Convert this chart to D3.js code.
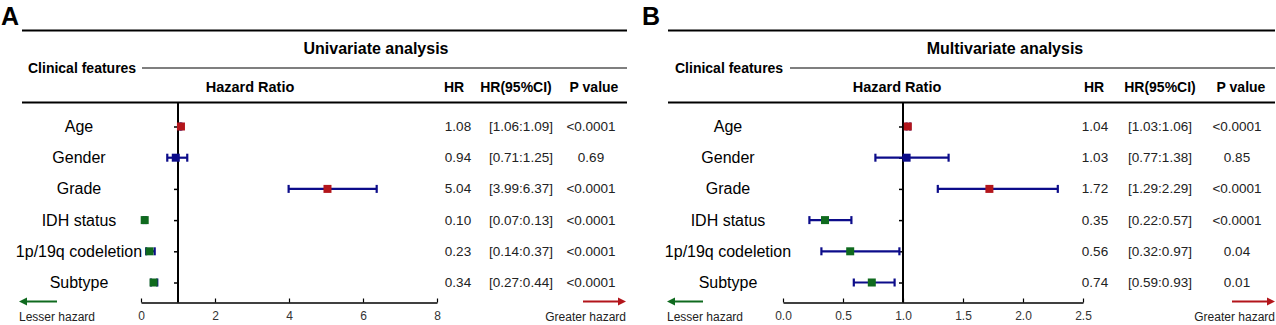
<!DOCTYPE html>
<html><head><meta charset="utf-8">
<script src="https://cdn.jsdelivr.net/npm/d3@7"></script>
<style>body{margin:0;background:#fff}svg{display:block;font-family:"Liberation Sans",Arial,sans-serif}</style>
</head><body>
<svg id="c" width="1276" height="325"></svg>
<script>
const features = ["Age","Gender","Grade","IDH status","1p/19q codeletion","Subtype"];
const groups = ["risk","ns","risk","protective","protective","protective"];

const uniHR   = [1.08, 0.94, 5.04, 0.10, 0.23, 0.34];
const uniLow  = [1.06, 0.71, 3.99, 0.07, 0.14, 0.27];
const uniHigh = [1.09, 1.25, 6.37, 0.13, 0.37, 0.44];
const uniP    = ["<0.0001","0.69","<0.0001","<0.0001","<0.0001","<0.0001"];
const uniTicks = [0, 2, 4, 6, 8];

const mulHR   = [1.04, 1.03, 1.72, 0.35, 0.56, 0.74];
const mulLow  = [1.03, 0.77, 1.29, 0.22, 0.32, 0.59];
const mulHigh = [1.06, 1.38, 2.29, 0.57, 0.97, 0.93];
const mulP    = ["<0.0001","0.85","<0.0001","<0.0001","0.04","0.01"];
const mulTicks = [0, 0.5, 1.0, 1.5, 2.0, 2.5];

const colors = {risk:"#b3151b", ns:"#0c0c8a", protective:"#0f6a1e"};
const ciColor = "#0c0c8a";

const svg = d3.select("#c");

function panel(o){
  const g = svg.append("g");
  g.append("text").attr("x",o.letterX).attr("y",25).attr("font-size",25).attr("font-weight","bold").text(o.letter);
  g.append("line").attr("x1",o.left).attr("x2",o.right).attr("y1",30.5).attr("y2",30.5).attr("stroke","#000").attr("stroke-width",2.2);
  g.append("text").attr("x",o.titleX).attr("y",54).attr("text-anchor","middle").attr("font-size",16).attr("font-weight","bold").text(o.title);
  g.append("text").attr("x",o.cfX).attr("y",73).attr("font-size",14).attr("font-weight","bold").text("Clinical features");
  g.append("line").attr("x1",o.cfLine).attr("x2",o.right).attr("y1",68).attr("y2",68).attr("stroke","#000").attr("stroke-width",1.2);
  g.append("text").attr("x",o.hrTitleX).attr("y",91.5).attr("text-anchor","middle").attr("font-size",14.5).attr("font-weight","bold").text("Hazard Ratio");
  const heads = [["HR",o.hHR],["HR(95%CI)",o.hCI],["P value",o.hP]];
  heads.forEach(h=>g.append("text").attr("x",h[1]).attr("y",91.5).attr("text-anchor","middle").attr("font-size",14).attr("font-weight","bold").text(h[0]));
  g.append("line").attr("x1",o.left).attr("x2",o.right).attr("y1",102.5).attr("y2",102.5).attr("stroke","#000").attr("stroke-width",1.8);

  const x = d3.scaleLinear().domain([o.ticks[0], o.ticks[o.ticks.length-1]]).range(o.xr);
  const y = d3.scalePoint().domain(features).range([126.5, 282.5]);
  const axisY = 302.5;

  const ax = g.append("g").attr("transform",`translate(0,${axisY})`)
    .call(d3.axisBottom(x).tickValues(o.ticks).tickSizeInner(-4).tickSizeOuter(0).tickPadding(9).tickFormat(o.fmt));
  ax.select(".domain").attr("stroke","#000").attr("stroke-width",1.5);
  ax.selectAll(".tick line").attr("stroke","#000").attr("stroke-width",1.2);
  ax.selectAll(".tick text").attr("font-size",12).attr("fill","#333").attr("font-family","Liberation Sans, Arial, sans-serif");

  g.append("line").attr("x1",x(1)).attr("x2",x(1)).attr("y1",103).attr("y2",axisY).attr("stroke","#000").attr("stroke-width",2);
  const ay = g.append("g").attr("transform",`translate(${x(1)},0)`)
    .call(d3.axisLeft(y).tickSizeInner(4).tickSizeOuter(0).tickFormat(""));
  ay.select(".domain").remove();
  ay.selectAll(".tick line").attr("stroke","#000").attr("stroke-width",1.5);

  g.selectAll(".lab").data(features).join("text")
    .attr("x",o.labX).attr("y",d=>y(d)+5.5).attr("text-anchor","middle").attr("font-size",16).text(d=>d);

  const rows = features.map((f,i)=>({f, hr:o.hr[i], lo:o.lo[i], hi:o.hi[i], p:o.p[i], grp:groups[i]}));
  const ci = g.selectAll(".ci").data(rows).join("g");
  ci.append("line").attr("x1",d=>x(d.lo)).attr("x2",d=>x(d.hi)).attr("y1",d=>y(d.f)).attr("y2",d=>y(d.f)).attr("stroke",ciColor).attr("stroke-width",2.2);
  ci.append("line").attr("x1",d=>x(d.lo)).attr("x2",d=>x(d.lo)).attr("y1",d=>y(d.f)-4).attr("y2",d=>y(d.f)+4).attr("stroke",ciColor).attr("stroke-width",2.2);
  ci.append("line").attr("x1",d=>x(d.hi)).attr("x2",d=>x(d.hi)).attr("y1",d=>y(d.f)-4).attr("y2",d=>y(d.f)+4).attr("stroke",ciColor).attr("stroke-width",2.2);
  g.selectAll(".pt").data(rows).join("rect")
    .attr("x",d=>x(d.hr)-4).attr("y",d=>y(d.f)-4).attr("width",8).attr("height",8).attr("fill",d=>colors[d.grp]);

  g.selectAll(".hrv").data(rows).join("text").attr("x",o.cHR).attr("y",d=>y(d.f)+4.5).attr("text-anchor","middle").attr("font-size",13.5).attr("fill","#222").text(d=>d.hr.toFixed(2));
  g.selectAll(".civ").data(rows).join("text").attr("x",o.cCI).attr("y",d=>y(d.f)+4.5).attr("text-anchor","middle").attr("font-size",13.5).attr("fill","#222").text(d=>`[${d.lo.toFixed(2)}:${d.hi.toFixed(2)}]`);
  g.selectAll(".pv").data(rows).join("text").attr("x",o.cP).attr("y",d=>y(d.f)+4.5).attr("text-anchor","middle").attr("font-size",13.5).attr("fill","#222").text(d=>d.p);

  const aY = axisY - 1;
  g.append("line").attr("x1",o.gA[0]+6).attr("x2",o.gA[1]).attr("y1",aY).attr("y2",aY).attr("stroke",colors.protective).attr("stroke-width",2);
  g.append("path").attr("d",`M${o.gA[0]},${aY}L${o.gA[0]+8},${aY-4}L${o.gA[0]+8},${aY+4}Z`).attr("fill",colors.protective);
  g.append("line").attr("x1",o.rA[0]).attr("x2",o.rA[1]-6).attr("y1",aY).attr("y2",aY).attr("stroke",colors.risk).attr("stroke-width",2);
  g.append("path").attr("d",`M${o.rA[1]},${aY}L${o.rA[1]-8},${aY-4}L${o.rA[1]-8},${aY+4}Z`).attr("fill",colors.risk);
  g.append("text").attr("x",o.gA[0]).attr("y",321).attr("font-size",12).attr("fill","#222").text("Lesser hazard");
  g.append("text").attr("x",o.rA[1]).attr("y",321).attr("text-anchor","end").attr("font-size",12).attr("fill","#222").text("Greater hazard");
}

panel({letter:"A", letterX:1, left:22, right:627, title:"Univariate analysis", titleX:376,
  cfX:28, cfLine:142, hrTitleX:250, hHR:454, hCI:516, hP:594,
  ticks:uniTicks, xr:[141,437], fmt:d3.format("d"), labX:79,
  hr:uniHR, lo:uniLow, hi:uniHigh, p:uniP, cHR:458, cCI:521, cP:591,
  gA:[19,57], rA:[583,626]});

panel({letter:"B", letterX:642, left:668, right:1275, title:"Multivariate analysis", titleX:1005,
  cfX:675, cfLine:790, hrTitleX:897, hHR:1094, hCI:1160, hP:1241,
  ticks:mulTicks, xr:[783,1083], fmt:d3.format(".1f"), labX:728,
  hr:mulHR, lo:mulLow, hi:mulHigh, p:mulP, cHR:1095, cCI:1160, cP:1237,
  gA:[667,703], rA:[1232,1275]});
</script>
</body></html>
